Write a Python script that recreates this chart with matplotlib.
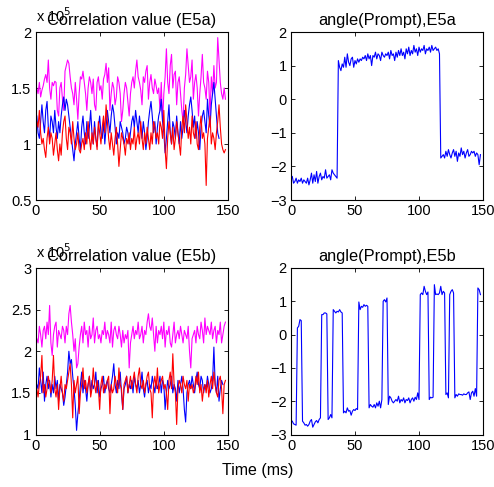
import numpy as np
import matplotlib
matplotlib.use("Agg")
import matplotlib.pyplot as plt
from matplotlib.transforms import offset_copy

plt.rcParams["font.family"] = ["Liberation Sans", "DejaVu Sans"]

# correlation values, units of 1e5
e5a_mag = [1.50,1.45,1.55,1.42,1.48,1.52,1.58,1.62,1.55,1.75,1.50,1.40,1.55,1.52,1.56,1.55,1.30,1.25,1.50,1.55,
           1.40,1.30,1.65,1.70,1.75,1.72,1.60,1.50,1.45,1.35,1.55,1.40,1.22,1.45,1.60,1.58,1.65,1.55,1.45,1.30,
           1.50,1.60,1.55,1.45,1.58,1.35,1.30,1.55,1.60,1.48,1.52,1.40,1.58,1.62,1.72,1.55,1.68,1.30,1.45,1.55,
           1.50,1.35,1.42,1.60,1.55,1.45,1.20,1.30,1.45,1.55,1.50,1.38,1.25,1.45,1.55,1.60,1.50,1.65,1.75,1.60,
           1.55,1.48,1.35,1.60,1.55,1.65,1.70,1.40,1.55,1.62,1.50,1.45,1.58,1.52,1.45,1.50,1.30,1.55,1.20,1.45,
           1.60,1.85,1.55,1.45,1.70,1.80,1.50,1.62,1.65,1.35,1.55,1.60,1.45,1.30,1.20,1.50,1.62,1.85,1.70,1.55,
           1.60,1.75,1.40,1.55,1.62,1.50,1.25,1.45,1.60,1.80,1.55,1.50,1.40,1.65,1.55,1.25,1.60,1.45,1.70,1.50,
           1.55,1.95,1.75,1.55,1.45,1.40,1.50,1.40]
e5a_blue = [1.25,1.10,1.05,1.20,1.35,1.20,1.10,1.30,1.38,1.15,1.05,1.25,1.20,1.10,1.30,1.15,1.05,1.20,1.10,1.25,
            1.35,1.42,1.30,1.40,1.35,1.25,1.15,1.05,0.95,0.85,1.00,1.10,1.20,1.05,0.95,1.15,1.25,1.10,1.00,1.20,
            1.05,1.15,1.30,1.10,1.00,1.20,1.05,0.98,1.15,1.25,1.10,1.05,1.20,1.00,1.15,1.30,1.20,1.10,1.25,1.35,
            1.28,1.15,1.00,1.10,1.05,1.20,1.15,1.10,1.00,1.05,1.15,1.10,1.00,1.10,1.20,1.25,1.15,1.30,1.20,1.10,
            1.25,1.15,1.05,1.20,1.10,0.95,1.05,1.20,1.30,1.38,1.25,1.10,1.20,1.00,1.15,1.25,1.30,1.40,1.20,1.10,
            0.92,1.05,1.20,1.35,1.10,1.00,1.20,1.15,1.05,1.25,1.10,1.00,1.20,1.05,1.15,1.30,1.20,1.10,1.25,1.35,
            1.42,1.30,1.15,1.25,1.05,1.20,1.10,0.95,1.15,1.25,1.30,1.20,1.10,1.40,1.25,1.15,1.35,1.45,1.55,1.40,
            1.25,1.10,1.05]
e5a_red = [1.20,1.15,1.30,1.10,1.00,1.05,0.95,0.88,1.05,1.15,1.00,1.10,1.05,0.90,1.00,1.10,0.95,0.85,1.00,0.90,
           1.10,1.20,1.25,1.05,0.95,1.15,1.10,1.00,1.20,1.05,0.95,1.00,1.10,0.95,0.92,1.00,1.05,0.95,1.10,1.00,
           1.20,1.05,0.95,1.10,1.00,1.15,1.05,0.95,1.20,1.10,1.00,1.15,1.25,1.10,1.35,1.20,1.05,0.95,1.10,1.00,
           0.90,1.05,1.15,1.00,0.80,0.95,1.10,1.05,1.00,0.90,1.05,1.00,1.10,0.95,1.05,1.00,1.15,0.95,1.05,1.10,
           1.00,1.20,1.05,0.95,1.10,1.00,1.15,1.05,0.95,1.10,1.00,1.20,1.15,1.05,1.10,1.00,1.20,1.15,1.05,1.30,
           0.95,0.78,1.05,1.20,1.10,1.00,1.15,0.95,1.05,1.20,1.10,1.00,0.90,1.15,1.25,1.10,1.35,1.20,1.05,1.15,
           1.00,1.25,1.10,1.05,1.20,1.00,0.95,1.15,1.25,1.05,1.10,1.00,0.63,1.05,1.15,1.25,1.00,1.10,1.05,0.95,
           1.10,1.20,1.35,1.15,1.00,0.95,0.92,0.95]

e5b_mag = [2.15,2.10,2.30,2.20,2.05,2.25,2.30,2.15,2.35,2.20,2.55,2.10,1.95,2.20,2.30,2.35,2.05,2.25,2.20,2.15,
           2.30,2.25,2.10,2.30,2.20,2.45,2.55,2.35,2.20,2.00,2.15,1.80,1.85,2.05,2.20,2.30,2.10,2.35,2.20,2.25,
           2.05,2.30,2.15,2.20,2.40,2.10,2.25,2.30,2.15,2.20,2.10,2.25,2.20,2.35,2.15,2.25,2.20,2.10,2.35,2.05,
           2.25,2.30,2.20,2.15,2.30,2.20,2.05,2.25,2.10,2.20,2.15,2.25,1.80,2.10,2.20,2.30,2.15,2.25,2.20,2.35,
           2.15,2.20,2.30,2.10,2.25,2.20,2.35,2.45,2.30,2.25,2.40,2.20,2.00,2.30,2.10,2.25,2.20,2.30,2.15,2.35,
           2.05,2.25,2.20,2.30,2.10,2.05,2.20,2.35,2.10,2.20,2.25,2.15,2.30,2.20,2.10,2.25,2.20,2.15,2.30,2.00,
           1.80,2.15,2.20,2.25,2.10,2.30,2.20,2.15,2.35,2.25,2.10,2.40,2.20,2.30,2.25,2.20,2.35,2.15,2.25,2.30,
           2.10,2.25,2.20,2.35,2.10,2.20,2.30,2.35]
e5b_blue = [1.60,1.55,1.80,1.65,1.50,1.75,1.40,1.60,1.70,1.55,1.65,1.45,1.60,1.50,1.70,1.55,1.65,1.40,1.60,1.55,
            1.50,1.35,1.45,1.60,1.75,2.00,1.85,1.90,1.70,1.55,1.35,1.05,1.25,1.40,1.60,1.75,1.50,1.65,1.55,1.40,
            1.60,1.70,1.50,1.65,1.55,1.60,1.75,1.50,1.65,1.45,1.55,1.60,1.70,1.50,1.60,1.65,1.55,1.50,1.60,1.70,
            1.85,1.60,1.50,1.65,1.55,1.75,1.50,1.30,1.55,1.60,1.70,1.50,1.60,1.55,1.65,1.50,1.70,1.60,1.55,1.65,
            1.50,1.60,1.75,1.55,1.45,1.60,1.65,1.50,1.60,1.55,1.70,1.60,1.50,1.65,1.55,1.60,1.70,1.50,1.65,1.60,
            1.30,1.50,1.65,1.55,1.60,1.70,1.50,1.60,1.55,1.40,1.65,1.50,1.60,1.70,1.55,1.30,1.15,1.50,1.60,1.65,
            1.55,1.70,1.60,1.50,1.65,1.75,1.60,1.55,1.70,1.65,1.50,1.60,1.55,1.70,1.60,1.50,1.55,1.65,2.05,1.60,
            1.50,1.70,1.40,1.55,1.65,1.60]
e5b_red = [1.55,1.45,1.60,1.70,1.95,1.50,1.60,1.45,1.55,1.70,1.60,1.50,1.65,1.95,1.55,1.45,1.60,1.30,1.55,1.70,
           1.50,1.40,1.60,1.55,1.65,1.75,1.85,1.60,1.20,1.65,1.50,1.60,1.70,1.25,1.50,1.60,1.80,1.55,1.65,1.50,
           1.60,1.70,1.45,1.55,1.80,1.60,1.50,1.65,1.55,1.30,1.60,1.70,1.50,1.60,1.55,1.65,1.70,1.25,1.60,1.50,
           1.55,1.70,1.60,1.50,1.80,1.60,1.55,1.30,1.60,1.65,1.70,1.50,1.60,1.70,1.55,1.65,1.75,1.60,1.50,1.70,
           1.80,1.60,1.55,1.65,1.50,1.60,1.70,1.75,1.55,1.50,1.20,1.60,1.70,1.55,1.80,1.50,1.60,1.65,1.70,1.55,
           1.60,1.50,1.30,1.65,1.75,1.55,1.97,1.60,1.50,1.12,1.55,1.65,1.60,1.50,1.70,1.60,1.55,1.65,1.40,1.60,
           1.55,1.60,1.50,1.55,1.70,1.60,1.75,1.50,1.60,1.40,1.55,1.60,1.50,1.65,1.45,1.60,1.70,1.55,1.75,1.60,
           1.50,1.45,1.65,1.70,1.55,1.25,1.60,1.65]

# prompt phase angle (rad)
ang_e5a = [-2.30,-2.50,-2.45,-2.35,-2.50,-2.40,-2.45,-2.35,-2.50,-2.40,-2.45,-2.50,-2.35,-2.55,-2.40,-2.20,
           -2.50,-2.25,-2.45,-2.15,-2.50,-2.30,-2.20,-2.40,-2.30,-2.35,-2.10,-2.35,-2.30,-2.25,-2.40,-2.10,
           -2.20,-2.25,-2.30,-2.35,
           1.15,0.95,0.85,1.05,0.95,1.25,0.95,1.35,1.10,1.00,1.20,1.25,0.95,1.15,1.05,1.20,1.10,1.20,1.15,1.25,
           1.20,1.30,1.15,1.35,1.20,1.30,1.00,1.30,1.25,1.40,1.20,1.35,1.30,1.15,1.40,1.30,1.25,1.35,1.30,1.40,
           1.20,1.45,1.30,1.35,1.15,1.40,1.25,1.45,1.30,1.50,1.30,1.40,1.20,1.50,1.35,1.55,1.30,1.45,1.35,1.60,
           1.40,1.50,1.30,1.55,1.40,1.50,1.45,1.60,1.35,1.50,1.45,1.55,1.40,1.60,1.45,1.50,1.55,1.45,1.50,1.35,
           -1.75,-1.70,-1.65,-1.75,-1.55,-1.70,-1.50,-1.65,-1.75,-1.60,-1.50,-1.70,-1.55,-1.85,-1.60,-1.70,
           -1.45,-1.65,-1.55,-1.75,-1.60,-1.50,-1.70,-1.65,-1.55,-1.60,-1.55,-1.70,-1.60,-1.65,-1.95,-1.65]
ang_e5b = [-2.60,-2.68,-2.70,-2.72,0.20,0.25,0.45,0.42,-2.60,-2.65,-2.72,-2.70,-2.75,-2.70,-2.60,-2.55,
           -2.78,-2.70,-2.62,-2.58,-2.65,-2.55,-2.50,0.60,0.60,0.65,0.65,0.62,-2.55,-2.50,-2.40,-2.50,
           0.75,0.70,0.65,0.70,0.68,0.75,0.68,0.65,-2.35,-2.30,-2.35,-2.20,-2.30,-2.28,-2.42,-2.30,
           -2.25,-2.28,-2.22,-2.25,0.98,0.75,0.85,0.82,0.90,0.85,0.88,0.85,-2.20,-2.10,-2.15,-2.18,
           -2.10,-2.20,-2.05,-2.15,-2.00,-2.20,-1.95,1.00,1.05,0.98,1.10,-2.10,-1.85,-1.90,-2.00,-2.05,
           -2.00,-1.95,-2.00,-1.85,-2.05,-1.95,-2.00,-1.90,-2.05,-1.95,-1.98,-1.90,-2.05,-1.95,-1.90,-2.00,
           -1.88,-1.95,-1.75,-1.95,1.20,1.25,1.20,1.45,1.30,1.20,1.28,-1.95,-1.88,-1.90,-1.88,1.50,
           1.20,1.22,1.20,1.25,1.45,1.20,1.30,1.25,-1.80,-1.75,-1.90,1.20,1.30,1.35,1.25,-1.90,
           -1.80,-1.85,-1.78,-1.80,-1.80,-1.82,-1.78,-1.80,-1.80,-1.75,-1.72,-1.95,-1.75,-1.70,-1.85,-1.62,
           -1.85,1.40,1.35,1.20]

W, H = 494, 487
fig = plt.figure(figsize=(W / 100, H / 100), dpi=100)

def box(l, t, r, b):
    return [l / W, (H - b) / H, (r - l) / W, (b - t) / H]

ax_tl = fig.add_axes(box(35.5, 32, 228, 200))
ax_tr = fig.add_axes(box(291, 32, 483, 200))
ax_bl = fig.add_axes(box(35.5, 268, 228, 434.5))
ax_br = fig.add_axes(box(291, 268, 483, 434.5))

lw = 0.8

def xs(v):
    return np.arange(1, len(v) + 1)

for ax, mag, blu, red in [(ax_tl, e5a_mag, e5a_blue, e5a_red), (ax_bl, e5b_mag, e5b_blue, e5b_red)]:
    ax.plot(xs(mag), mag, color=(1, 0, 1), lw=lw)
    ax.plot(xs(blu), blu, color=(0, 0, 1), lw=lw)
    ax.plot(xs(red), red, color=(1, 0, 0), lw=lw)

ax_tr.plot(xs(ang_e5a), ang_e5a, color=(0, 0, 1), lw=lw)
ax_br.plot(xs(ang_e5b), ang_e5b, color=(0, 0, 1), lw=lw)

ax_tl.set_ylim(0.5, 2); ax_tl.set_yticks([0.5, 1, 1.5, 2]); ax_tl.set_yticklabels(["0.5", "1", "1.5", "2"])
ax_bl.set_ylim(1, 3); ax_bl.set_yticks([1, 1.5, 2, 2.5, 3]); ax_bl.set_yticklabels(["1", "1.5", "2", "2.5", "3"])
for ax in (ax_tr, ax_br):
    ax.set_ylim(-3, 2); ax.set_yticks([-3, -2, -1, 0, 1, 2])

tfs = 11.8
ax_tl.set_title("Correlation value (E5a)", fontsize=tfs, pad=5)
ax_tr.set_title("angle(Prompt),E5a", fontsize=tfs, pad=5)
ax_bl.set_title("Correlation value (E5b)", fontsize=tfs, pad=5)
ax_br.set_title("angle(Prompt),E5b", fontsize=tfs, pad=5)

# MATLAB-style exponent label tucked under the title
for ax in (ax_tl, ax_bl):
    tr = offset_copy(ax.transAxes, fig=fig, x=0, y=5, units="points")
    ax.text(0.0, 1.0, r"x 10$^5$", transform=tr, fontsize=10.5, ha="left", va="bottom")

for ax in (ax_tl, ax_tr, ax_bl, ax_br):
    ax.set_xlim(0, 150)
    ax.set_xticks([0, 50, 100, 150])
    ax.tick_params(direction="in", top=True, right=True, length=3, width=0.6, labelsize=10.5, pad=3)
    for s in ax.spines.values():
        s.set_linewidth(0.8)

fig.text(258 / W, 1 - 470 / H, "Time (ms)", ha="center", va="center", fontsize=11.5)

fig.savefig("out.png", dpi=100)
